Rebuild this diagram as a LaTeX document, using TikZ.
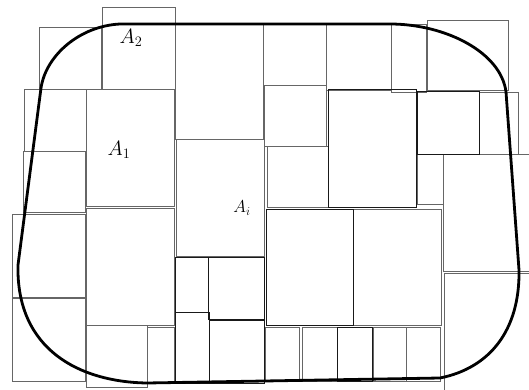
\documentclass[tikz,border=0pt]{standalone}
\usepackage{tikz}

\begin{document}
\begin{tikzpicture}[
    x=1pt, y=-1pt,
    cell/.style={draw=black!60, line width=0.75pt},
    cellb/.style={draw=black!90, line width=1pt},
    region/.style={draw=black, line width=2.8pt, line join=round},
    lab/.style={font=\fontsize{21}{24}\selectfont, inner sep=0pt},
]
\useasboundingbox (0,0) rectangle (529,390);
\clip (0,0) rectangle (529,390);

% thin cells
\foreach \xa/\ya/\xb/\yb in {
    102/7/175/89, 39/27/101/89, 24/89/86/151, 23/151/85/212,
    12/214/85/297, 12/298/85/381, 86/89/174/206, 86/208/174/325,
    86/325/147/387, 147/327/174/383, 175/24/263/139, 176/139/264/256,
    263/24/326/85, 326/24/391/90, 391/24/426/92, 427/20/508/90,
    479/92/518/154, 264/85/326/146, 267/146/328/207, 417/154/443/204,
    443/154/540/271, 353/209/441/325, 444/273/540/400,
    265/327/299/381, 302/327/337/381, 373/327/406/381, 406/327/440/381}
    \draw[cell] (\xa,\ya) rectangle (\xb,\yb);

% darker cells
\foreach \xa/\ya/\xb/\yb in {
    175/257/208/312, 208/257/264/319, 175/312/209/383, 209/320/264/383,
    417/92/479/154, 328/90/416/207, 266/209/353/325, 337/327/372/381}
    \draw[cellb] (\xa,\ya) rectangle (\xb,\yb);

% the region
\draw[region] (120,24) -- (390,24)
    .. controls (445,24) and (501,52) .. (506,92)
    -- (519,270)
    .. controls (520,330) and (490,368) .. (440,378)
    -- (147,383)
    .. controls (80,382) and (16,350) .. (18,265)
    -- (41,88)
    .. controls (46,55) and (80,26) .. (120,24);

\node[lab] (a2) at (131,38) {$A_2$};
\node[lab] (a1) at (119,150) {$A_1$};
\node[lab, font=\fontsize{18}{20}\selectfont] (ai) at (242,208) {$A_i$};
\end{tikzpicture}
\end{document}
